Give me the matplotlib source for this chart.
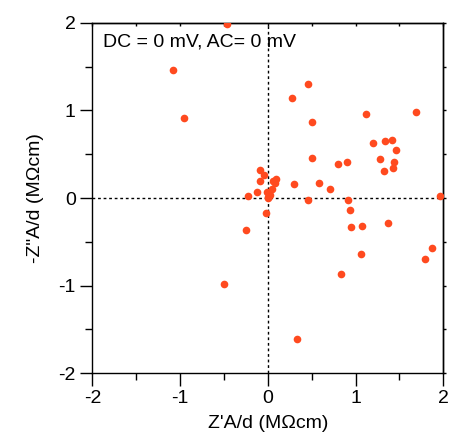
import matplotlib
matplotlib.use("Agg")
import matplotlib.pyplot as plt
from matplotlib.ticker import MultipleLocator

plt.rcParams['font.family'] = ['Liberation Sans', 'DejaVu Sans']
plt.rcParams['axes.unicode_minus'] = False

x_vals = [-0.47, -1.075, -0.95, 0.463, 0.27, 0.498, 1.121, 1.694, 1.197, 1.333,
          1.417, 1.459, 1.28, 1.44, 1.322, 1.428, 0.505, 0.798, 0.904, 0.30,
          0.585, 0.707, 0.456, 0.912, 0.931, 0.953, 1.079, 1.368, 1.064, 0.836,
          1.873, 1.797, 1.964, 0.33, -0.505, -0.248, -0.23, -0.12, -0.089, -0.047,
          -0.092, -0.024, 0.056, 0.093, 0.082, 0.044, -0.013, 0.006, 0.0, 0.02]
y_vals = [1.99, 1.464, 0.913, 1.304, 1.137, 0.871, 0.955, 0.981, 0.631, 0.646,
          0.662, 0.544, 0.441, 0.411, 0.304, 0.346, 0.453, 0.384, 0.415, 0.164,
          0.171, 0.106, -0.027, -0.027, -0.137, -0.335, -0.323, -0.285, -0.643, -0.871,
          -0.574, -0.696, 0.027, -1.609, -0.981, -0.365, 0.027, 0.065, 0.319, 0.262,
          0.194, -0.167, 0.198, 0.22, 0.167, 0.099, 0.072, 0.015, 0.0, 0.04]

x_ticks = [-2, -1, 0, 1, 2]
y_ticks = [-2, -1, 0, 1, 2]

fig = plt.figure(figsize=(4.53, 4.42), dpi=100)
ax = fig.add_axes([0.2038, 0.1554, 0.7748, 0.7932])

ax.axhline(0, color='black', linestyle=(0, (2, 2)), linewidth=1.0, zorder=1)
ax.axvline(0, color='black', linestyle=(0, (2, 2)), linewidth=1.0, zorder=1)

ax.plot(x_vals, y_vals, 'o', color='#FF4A1F', markersize=5.5, markeredgewidth=0, zorder=3)

ax.set_xlim(-2, 2)
ax.set_ylim(-2, 2)
ax.set_xticks(x_ticks)
ax.set_yticks(y_ticks)
ax.xaxis.set_minor_locator(MultipleLocator(0.5))
ax.yaxis.set_minor_locator(MultipleLocator(0.5))

ax.tick_params(axis='both', which='major', direction='out', length=9, width=1,
               labelsize=14, pad=3, top=False, right=False)
ax.tick_params(axis='both', which='minor', direction='out', length=5, width=1,
               top=False, right=False)

# small ticks on top/right
ax2 = ax.secondary_xaxis('top')
ax2.set_xticks(x_ticks)
ax2.xaxis.set_minor_locator(MultipleLocator(0.5))
ax2.tick_params(which='both', direction='in', length=2, width=1, labeltop=False)
ax3 = ax.secondary_yaxis('right')
ax3.set_yticks(y_ticks)
ax3.yaxis.set_minor_locator(MultipleLocator(0.5))
ax3.tick_params(which='both', direction='out', length=2, width=1, labelright=False)

for sp in ax.spines.values():
    sp.set_linewidth(1)
ax2.spines['top'].set_linewidth(1)
ax3.spines['right'].set_linewidth(1)

ax.set_xlabel("Z'A/d (M\u03a9cm)", fontsize=14, labelpad=6)
ax.set_ylabel("-Z\"A/d (M\u03a9cm)", fontsize=14, labelpad=10)

ax.text(0.03, 0.97, "DC = 0 mV, AC= 0 mV", transform=ax.transAxes,
        fontsize=14, va='top', ha='left')

fig.savefig('out.png', dpi=100)
